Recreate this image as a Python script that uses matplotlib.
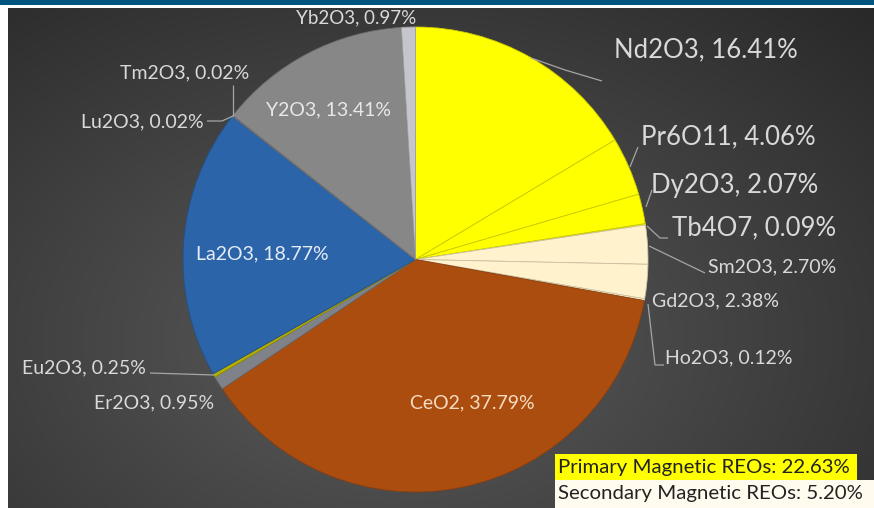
import numpy as np
import matplotlib.pyplot as plt
from matplotlib.patches import Rectangle
import matplotlib.colors as mcolors

# ---------------- data ----------------
oxides = ["Nd2O3", "Pr6O11", "Dy2O3", "Tb4O7", "Sm2O3", "Gd2O3", "Ho2O3",
          "CeO2", "Er2O3", "Eu2O3", "La2O3", "Lu2O3", "Tm2O3", "Y2O3", "Yb2O3"]
shares = [16.41, 4.06, 2.07, 0.09, 2.70, 2.38, 0.12,
          37.79, 0.95, 0.25, 18.77, 0.02, 0.02, 13.41, 0.97]
slice_colors = ["#FFFF00", "#FFFF00", "#FFFF00", "#FFFF00",
                "#FFF2CC", "#FFF2CC", "#FFF2CC",
                "#AC4D10", "#7F8288", "#B5B000", "#2C64AA",
                "#8A8A8A", "#8A8A8A", "#878787", "#C4C6CC"]
primary_label = "Primary Magnetic REOs"
primary_total = 22.63
secondary_label = "Secondary Magnetic REOs"
secondary_total = 5.20

# ---------------- layout ----------------
W, H = 874, 508
FONT = "Lato"

def Y(py):
    return H - py

fig = plt.figure(figsize=(W / 100, H / 100), dpi=100)
fig.patch.set_facecolor("white")
ax = fig.add_axes([0, 0, 1, 1])
ax.set_xlim(0, W)
ax.set_ylim(0, H)
ax.set_aspect("equal")
ax.axis("off")

# background: dark radial gradient
gx, gy = np.meshgrid(np.linspace(8, W, 300), np.linspace(8, H, 200))
d = np.sqrt(((gx - 390) / 620) ** 2 + ((gy - 340) / 420) ** 2)
val = 0.36 - 0.18 * np.clip(d, 0, 1.2)
img = np.dstack([val, val, val])
ax.imshow(img, extent=[8, W, Y(H), Y(8)], origin="upper", zorder=0,
          interpolation="bilinear", aspect="auto")

# top band
ax.add_patch(Rectangle((0, Y(5)), W, 5, color="#005580", zorder=1, lw=0))

# pie
cx, cy, R = 415.5, Y(259.5), 232.5
wedges, _ = ax.pie(shares, colors=slice_colors, startangle=90, counterclock=False,
                   center=(cx, cy), radius=R, frame=True,
                   wedgeprops=dict(linewidth=0.6))
for w, c in zip(wedges, slice_colors):
    rgb = np.array(mcolors.to_rgb(c)) * 0.8
    w.set_edgecolor(rgb)
    w.set_zorder(3)
ax.set_xlim(0, W)
ax.set_ylim(0, H)
ax.axis("off")

# labels
lab_col = "#D9D9D9"
big = 18.5
small = 14
label_pos = {
    "Nd2O3": (614, 50, "left", big, lab_col),
    "Pr6O11": (641, 137, "left", big, lab_col),
    "Dy2O3": (651, 186, "left", big, lab_col),
    "Tb4O7": (672, 228, "left", big, lab_col),
    "Sm2O3": (708, 267, "left", small, lab_col),
    "Gd2O3": (652, 301, "left", small, lab_col),
    "Ho2O3": (665, 358, "left", small, lab_col),
    "CeO2": (410, 403, "left", small, "#F5DCC2"),
    "Er2O3": (214, 403, "right", small, lab_col),
    "Eu2O3": (146, 368, "right", small, lab_col),
    "La2O3": (262, 254, "center", small, "#E6ECF4"),
    "Lu2O3": (204, 122, "right", small, lab_col),
    "Tm2O3": (249, 73, "right", small, lab_col),
    "Y2O3": (328, 110, "center", small, "#E8E8E8"),
    "Yb2O3": (356, 18, "center", 13.5, lab_col),
}
for name, v in zip(oxides, shares):
    x, py, ha, fs, col = label_pos[name]
    ax.text(x, Y(py), f"{name}, {v:.2f}%", ha=ha, va="center", fontsize=fs,
            color=col, family=FONT, zorder=5)

# leader lines
leaders = [
    [(531, 58), (565, 70), (602, 81)],
    [(630, 167), (638, 147)],
    [(646, 207), (652, 190)],
    [(647, 226), (660, 238), (668, 238)],
    [(649, 246), (705, 273)],
    [(648, 304), (655, 365), (664, 365)],
    [(214, 375), (150, 373)],
    [(233, 116), (222, 121), (207, 121)],
    [(233, 116), (233, 85)],
]
for pts in leaders:
    xs = [p[0] for p in pts]
    ys = [Y(p[1]) for p in pts]
    ax.plot(xs, ys, color="#A6A6A6", lw=0.9, zorder=4, solid_capstyle="butt")

# summary boxes
ax.add_patch(Rectangle((555, Y(480)), 302, 26, color="#FFFF00", zorder=6, lw=0))
ax.add_patch(Rectangle((555, Y(508)), W - 555, 28, color="#FFFBEF", zorder=6, lw=0))
ax.text(558, Y(467), f"{primary_label}: {primary_total:.2f}%", ha="left", va="center",
        fontsize=14.7, color="#222222", family=FONT, zorder=7)
ax.text(558, Y(494), f"{secondary_label}: {secondary_total:.2f}%", ha="left", va="center",
        fontsize=14.7, color="#222222", family=FONT, zorder=7)

# white left strip
ax.add_patch(Rectangle((0, 0), 8, Y(8), color="white", zorder=2, lw=0))

fig.savefig("out.png", dpi=100, facecolor="white")
